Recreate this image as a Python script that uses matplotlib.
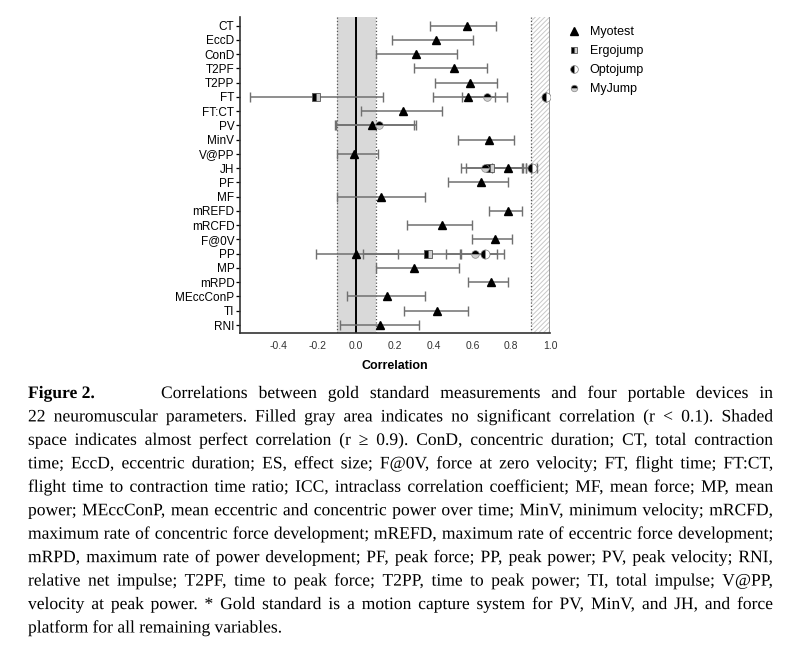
import numpy as np
import matplotlib
matplotlib.use("Agg")
import matplotlib.pyplot as plt
import matplotlib.patheffects as pe

# ─── Data ────────────────────────────────────────────────────────────────────
params = ["CT", "EccD", "ConD", "T2PF", "T2PP", "FT", "FT:CT", "PV", "MinV",
          "V@PP", "JH", "PF", "MF", "mREFD", "mRCFD", "F@0V", "PP", "MP",
          "mRPD", "MEccConP", "TI", "RNI"]

myotest_r = [0.57, 0.41, 0.31, 0.505, 0.585, 0.575, 0.24, 0.08, 0.685, -0.01, 0.785,
             0.645, 0.13, 0.785, 0.445, 0.715, 0.0, 0.30, 0.695, 0.16, 0.415, 0.125]
myotest_lo = [0.38, 0.185, 0.10, 0.30, 0.405, 0.395, 0.025, -0.105, 0.525, -0.10, 0.70,
              0.475, -0.10, 0.685, 0.26, 0.595, -0.21, 0.10, 0.575, -0.05, 0.245, -0.085]
myotest_hi = [0.72, 0.60, 0.52, 0.675, 0.725, 0.715, 0.445, 0.30, 0.815, 0.11, 0.86,
              0.785, 0.355, 0.855, 0.595, 0.805, 0.215, 0.53, 0.785, 0.355, 0.575, 0.325]

ergo_params = ["FT", "JH", "PP"]
ergo_r = [-0.21, 0.69, 0.37]
ergo_lo = [-0.55, 0.565, 0.035]
ergo_hi = [0.14, 0.877, 0.535]

opto_params = ["FT", "JH", "PP"]
opto_r = [0.98, 0.905, 0.665]
opto_lo = [0.98, 0.875, 0.54]
opto_hi = [0.98, 0.935, 0.765]

myjump_params = ["FT", "PV", "JH", "PP"]
myjump_r = [0.675, 0.115, 0.665, 0.615]
myjump_lo = [0.545, -0.11, 0.54, 0.465]
myjump_hi = [0.78, 0.31, 0.855, 0.725]

x_ticks = [-0.4, -0.2, 0.0, 0.2, 0.4, 0.6, 0.8, 1.0]

caption_lines = [
    "Correlations between gold standard measurements and four portable devices in",
    "22 neuromuscular parameters. Filled gray area indicates no significant correlation (r < 0.1). Shaded",
    "space indicates almost perfect correlation (r \u2265 0.9). ConD, concentric duration; CT, total contraction",
    "time; EccD, eccentric duration; ES, effect size; F@0V, force at zero velocity; FT, flight time; FT:CT,",
    "flight time to contraction time ratio; ICC, intraclass correlation coefficient; MF, mean force; MP, mean",
    "power; MEccConP, mean eccentric and concentric power over time; MinV, minimum velocity; mRCFD,",
    "maximum rate of concentric force development; mREFD, maximum rate of eccentric force development;",
    "mRPD, maximum rate of power development; PF, peak force; PP, peak power; PV, peak velocity; RNI,",
    "relative net impulse; T2PF, time to peak force; T2PP, time to peak power; TI, total impulse; V@PP,",
    "velocity at peak power. * Gold standard is a motion capture system for PV, MinV, and JH, and force",
    "platform for all remaining variables.",
]

W, H = 800, 647
plt.rcParams["font.family"] = ["Liberation Sans", "DejaVu Sans"]

fig = plt.figure(figsize=(W / 100, H / 100), dpi=100)
ax = fig.add_axes([240 / W, 1 - 333 / H, 310 / W, 316 / H])

ypos = {p: i for i, p in enumerate(params)}

# shaded regions
ax.axvspan(-0.1, 0.1, color="#d9d9d9", lw=0, zorder=0)
ax.axvline(-0.1, color="#555555", ls=":", lw=0.9, zorder=1)
ax.axvline(0.1, color="#555555", ls=":", lw=0.9, zorder=1)
ax.axvline(0.0, color="black", lw=1.4, zorder=1)
plt.rcParams["hatch.color"] = "#c8c8c8"
plt.rcParams["hatch.linewidth"] = 0.7
ax.axvspan(0.9, 1.0, facecolor="white", edgecolor="#c8c8c8", hatch="///////", lw=0, zorder=0)
ax.axvline(0.9, color="#555555", ls=":", lw=0.9, zorder=1)
ax.axvline(1.0, color="#888888", lw=1.2, zorder=1)


def draw_device(names, r, lo, hi, marker_kw, label):
    y = [ypos[n] for n in names]
    r = np.array(r)
    err = [r - np.array(lo), np.array(hi) - r]
    ax.errorbar(r, y, xerr=err, fmt="none", ecolor="#707070", elinewidth=1.1,
                capsize=3.5, capthick=1.0, zorder=2)
    ax.plot(r, y, ls="none", zorder=3, label=label, **marker_kw)


draw_device(params, myotest_r, myotest_lo, myotest_hi,
            dict(marker="^", ms=6.3, color="black", mec="black"), "Myotest")
draw_device(ergo_params, ergo_r, ergo_lo, ergo_hi,
            dict(marker="s", ms=5.5, fillstyle="left", mfc="black", mfcalt="#d0d0d0",
                 mec="#555555", mew=0.6), "Ergojump")
draw_device(opto_params, opto_r, opto_lo, opto_hi,
            dict(marker="o", ms=6.5, fillstyle="left", mfc="black", mfcalt="white",
                 mec="#777777", mew=0.5), "Optojump")
draw_device(myjump_params, myjump_r, myjump_lo, myjump_hi,
            dict(marker="o", ms=5.5, fillstyle="top", mfc="black", mfcalt="#d0d0d0",
                 mec="#888888", mew=0.5), "MyJump")

ax.set_xlim(-0.6, 1.0)
ax.set_ylim(len(params) - 1 + 0.56, -0.6)
ax.set_yticks(range(len(params)))
ax.set_yticklabels(params, fontsize=8.5)
ax.set_xticks(x_ticks)
ax.set_xticklabels([f"{t:.1f}" for t in x_ticks], fontsize=7.5, color="#333333")
ax.tick_params(axis="x", length=0, pad=6)
ax.tick_params(axis="y", length=3, width=0.9, pad=1)
ax.set_xlabel("Correlation", fontsize=9, fontweight="bold", labelpad=6)
for s in ["top", "right"]:
    ax.spines[s].set_visible(False)
for s in ["left", "bottom"]:
    ax.spines[s].set_linewidth(1.2)
    ax.spines[s].set_color("#333333")

fig.legend(loc="upper left", bbox_to_anchor=(556 / W, 1 - 15 / H), frameon=False,
           fontsize=9, handlelength=1.0, handletextpad=0.8, labelspacing=0.55,
           markerscale=0.85)

# ─── Caption (justified, word by word) ───────────────────────────────────────
renderer = fig.canvas.get_renderer()
serif = ["Liberation Serif", "DejaVu Serif"]
left, right = 28, 773
as_path = [pe.Normal()]  # draw glyphs as paths so every word shares one baseline


def text_width(s, size, **kw):
    t = fig.text(0, 0, s, family=serif, fontsize=size, **kw)
    w = t.get_window_extent(renderer).width
    t.remove()
    return w


# font size: widest full line should just fit the text block
cap_size = 13.6
widest = max(text_width(l, cap_size) for l in caption_lines[1:-1])
cap_size = cap_size * 738 / widest
space_w = text_width("a b", cap_size) - text_width("ab", cap_size)

line_y = [398 + i * 23.45 for i in range(len(caption_lines))]


def put_line(line, y, x0, x1, last=False):
    words = line.split(" ")
    widths = [text_width(w, cap_size) for w in words]
    gap = space_w if last else (x1 - x0 - sum(widths)) / (len(words) - 1)
    x = x0
    for w, wd in zip(words, widths):
        fig.text(x / W, 1 - y / H, w, va="baseline", ha="left", family=serif,
                 fontsize=cap_size, path_effects=as_path)
        x += wd + gap


fig.text(left / W, 1 - line_y[0] / H, "Figure 2.", va="baseline", ha="left",
         fontweight="bold", family=serif, fontsize=cap_size, path_effects=as_path)
for i, line in enumerate(caption_lines):
    x0 = 161 if i == 0 else left
    put_line(line, line_y[i], x0, right, last=(i == len(caption_lines) - 1))

fig.savefig("out.png", dpi=100)
